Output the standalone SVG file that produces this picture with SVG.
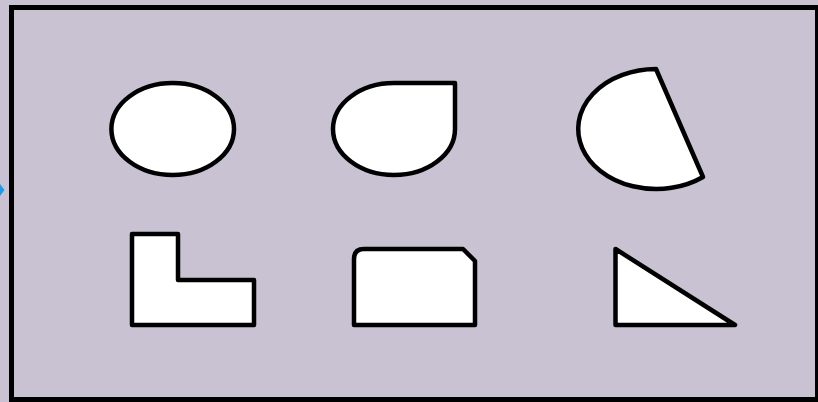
<svg xmlns="http://www.w3.org/2000/svg" width="818" height="402" viewBox="0 0 818 402">
<style>
.shape{fill:#ffffff;stroke:#000000;stroke-width:4.5;stroke-linejoin:round}
</style>
<rect x="0" y="0" width="818" height="402" fill="#c8c2d2"/>
<rect id="frame" x="11.5" y="7.5" width="806" height="392" fill="#c8c2d2" stroke="#000" stroke-width="5"/>
<g id="connectors">
<polygon points="0,184 4.5,190 0,196" fill="#1e9be6"/>
</g>
<g id="ellipse"><ellipse class="shape" cx="172.7" cy="129" rx="61.3" ry="46"/></g>
<g id="teardrop"><path class="shape" d="M394,83 L455,83 L455,129 A61,46 0 0 1 394,175 A61,46 0 0 1 333,129 A61,46 0 0 1 394,83 Z"/></g>
<g id="pie"><path class="shape" d="M656,69 L703,177 A78,60 0 1 1 656,69 Z"/></g>
<g id="lshape"><path class="shape" d="M132,234 L178,234 L178,280 L254,280 L254,325 L132,325 Z"/></g>
<g id="chamfer"><path class="shape" d="M364,249 L463,249 L475,261 L475,325 L354,325 L354,259 Q354,249 364,249 Z"/></g>
<g id="triangle"><path class="shape" d="M615.5,249 L735,325 L615.5,325 Z"/></g>
</svg>
